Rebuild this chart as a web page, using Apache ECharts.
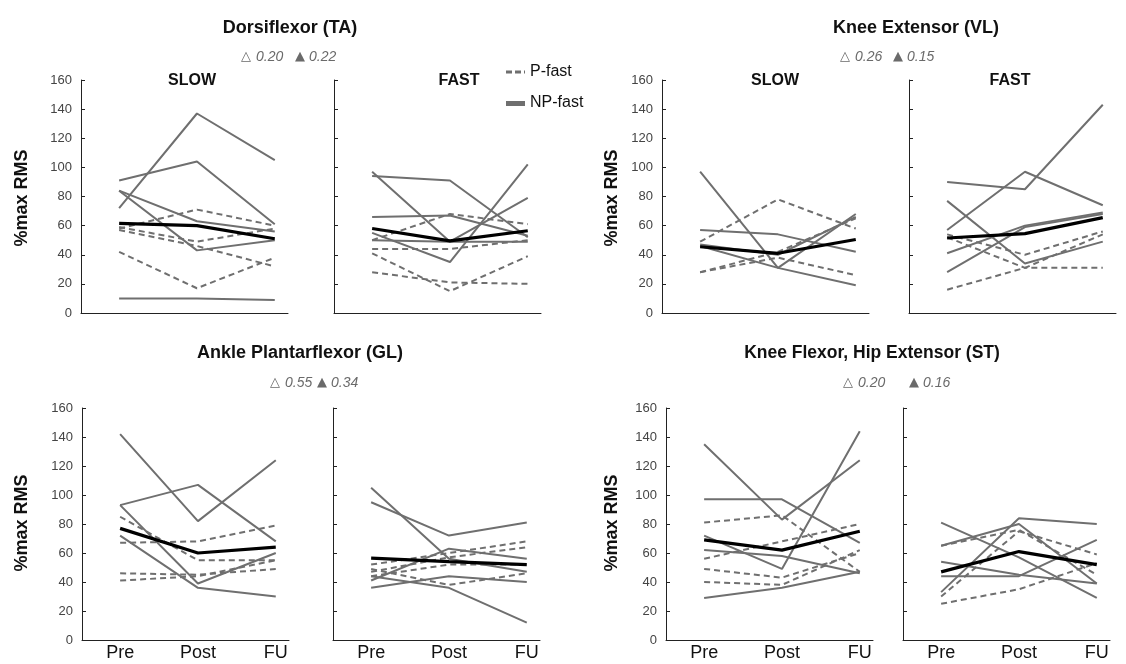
<!DOCTYPE html>
<html>
<head>
<meta charset="utf-8">
<script src="https://cdn.jsdelivr.net/npm/echarts@6/dist/echarts.min.js"></script>
<style>
  html, body { margin: 0; padding: 0; background: #fff; }
  #chart { width: 1126px; height: 664px; }
</style>
</head>
<body>
<div id="chart"></div>
<script>
// Time points
const timePoints = ['Pre', 'Post', 'FU'];
const yTicks = [0, 20, 40, 60, 80, 100, 120, 140, 160];

// Dorsiflexor (TA) — slow walking
const taSlowNP = [[72, 137, 105], [91, 104, 61], [84, 43, 50], [84, 63, 56], [10, 10, 9]];
const taSlowP = [[58, 71, 60], [59, 49, 58], [57, 46, 32], [42, 17, 38]];
const taSlowMean = [61.5, 60, 51];

// Dorsiflexor (TA) — fast walking
const taFastNP = [[94, 91, 52], [97, 49, 79], [66, 67, 53], [55, 35, 102], [50, 49, 49]];
const taFastP = [[44, 44, 50], [50, 68, 61], [41, 15, 39], [28, 21, 20]];
const taFastMean = [58, 49.5, 56.5];

// Knee extensor (VL) — slow walking
const vlSlowNP = [[97, 31, 68], [57, 54, 42], [46, 31, 19], [47, 40, 66]];
const vlSlowP = [[49, 78, 58], [28, 42, 65], [28, 38, 26]];
const vlSlowMean = [45.5, 41, 50.5];

// Knee extensor (VL) — fast walking
const vlFastNP = [[90, 85, 143], [57, 97, 74], [77, 34, 49], [41, 60, 69], [28, 59, 68]];
const vlFastP = [[54, 40, 56], [52, 31, 31], [16, 31, 54]];
const vlFastMean = [51.5, 54.5, 65.5];

// Ankle plantarflexor (GL) — slow walking
const glSlowNP = [[142, 82, 124], [93, 107, 68], [93, 39, 60], [72, 36, 30]];
const glSlowP = [[85, 55, 55], [67, 68, 79], [46, 45, 49], [41, 44, 55]];
const glSlowMean = [77, 60, 64];

// Ankle plantarflexor (GL) — fast walking
const glFastNP = [[105, 56, 47], [95, 72, 81], [41, 63, 56], [36, 44, 40], [44, 36, 12]];
const glFastP = [[52, 60, 68], [47, 57, 64], [49, 38, 46], [44, 52, 52]];
const glFastMean = [56.5, 54, 52];

// Knee flexor / hip extensor (ST) — slow walking
const stSlowNP = [[135, 83, 124], [97, 97, 67], [72, 49, 144], [62, 58, 46], [29, 36, 47]];
const stSlowP = [[81, 86, 47], [56, 68, 80], [49, 43, 60], [40, 38, 62]];
const stSlowMean = [69, 62, 75];

// Knee flexor / hip extensor (ST) — fast walking
const stFastNP = [[81, 57, 29], [65, 80, 39], [54, 45, 39], [44, 44, 69], [33, 84, 80]];
const stFastP = [[65, 76, 45], [30, 75, 59], [25, 35, 53]];
const stFastMean = [47, 61, 52];

// Change scores shown under each muscle heading: [open-triangle value, filled-triangle value]
const taNotes = ['0.20', '0.22'];
const vlNotes = ['0.26', '0.15'];
const glNotes = ['0.55', '0.34'];
const stNotes = ['0.20', '0.16'];

const FONT = '"Liberation Sans", Arial, sans-serif';
const SYMBOL_FONT = '"DejaVu Sans", sans-serif';
const LINE_GRAY = '#6f6f6f';

// Panel placement on the page
const panels = [
  { left: 81,  top: 80,  height: 233, np: taSlowNP, p: taSlowP, mean: taSlowMean, yLabels: true,  xLabels: false },
  { left: 334, top: 80,  height: 233, np: taFastNP, p: taFastP, mean: taFastMean, yLabels: false, xLabels: false },
  { left: 662, top: 80,  height: 233, np: vlSlowNP, p: vlSlowP, mean: vlSlowMean, yLabels: true,  xLabels: false },
  { left: 909, top: 80,  height: 233, np: vlFastNP, p: vlFastP, mean: vlFastMean, yLabels: false, xLabels: false },
  { left: 82,  top: 408, height: 232, np: glSlowNP, p: glSlowP, mean: glSlowMean, yLabels: true,  xLabels: true },
  { left: 333, top: 408, height: 232, np: glFastNP, p: glFastP, mean: glFastMean, yLabels: false, xLabels: true },
  { left: 666, top: 408, height: 232, np: stSlowNP, p: stSlowP, mean: stSlowMean, yLabels: true,  xLabels: true },
  { left: 903, top: 408, height: 232, np: stFastNP, p: stFastP, mean: stFastMean, yLabels: false, xLabels: true }
];
const PANEL_W = 207;
const X_MIN = -0.49, X_MAX = 2.17;

const toPoints = vals => vals.map((v, i) => [i, v]);

const grid = [], xAxis = [], yAxis = [], series = [];
panels.forEach((pn, k) => {
  grid.push({ left: pn.left, top: pn.top, width: PANEL_W, height: pn.height });
  xAxis.push({
    type: 'value', gridIndex: k, min: X_MIN, max: X_MAX,
    axisLine: { show: true, onZero: false, lineStyle: { color: '#222', width: 1 } },
    axisTick: { show: false },
    splitLine: { show: false },
    axisLabel: {
      show: pn.xLabels, customValues: [0, 1, 2], margin: 4,
      formatter: v => timePoints[Math.round(v)] || '',
      fontFamily: FONT, fontSize: 18, color: '#111'
    }
  });
  yAxis.push({
    type: 'value', gridIndex: k, min: yTicks[0], max: yTicks[yTicks.length - 1], interval: 20,
    axisLine: { show: true, onZero: false, lineStyle: { color: '#222', width: 1 } },
    axisTick: { show: true, inside: true, length: 4, lineStyle: { color: '#222' } },
    splitLine: { show: false },
    axisLabel: { show: pn.yLabels, margin: 9, fontFamily: FONT, fontSize: 13, color: '#444' }
  });
  pn.p.forEach(row => series.push({
    type: 'line', xAxisIndex: k, yAxisIndex: k, data: toPoints(row), symbol: 'none',
    lineStyle: { color: LINE_GRAY, width: 2, type: [6, 4] }, silent: true, z: 2
  }));
  pn.np.forEach(row => series.push({
    type: 'line', xAxisIndex: k, yAxisIndex: k, data: toPoints(row), symbol: 'none',
    lineStyle: { color: LINE_GRAY, width: 2 }, silent: true, z: 3
  }));
  series.push({
    type: 'line', xAxisIndex: k, yAxisIndex: k, data: toPoints(pn.mean), symbol: 'none',
    lineStyle: { color: '#000', width: 3.2 }, silent: true, z: 4
  });
});

// Headings, change-score notes, condition labels, axis names and legend
const txt = (x, y, text, size, opts = {}) => ({
  type: 'text', x, y,
  style: Object.assign({
    text, fontFamily: FONT, fontSize: size, fontWeight: 'bold', fill: '#111',
    align: 'center', verticalAlign: 'middle'
  }, opts)
});
const NOTE_STYLE = { fontWeight: 'normal', fontStyle: 'italic', fill: '#6a6a6a', align: 'left' };
const TRI_STYLE = { fontWeight: 'normal', fontFamily: SYMBOL_FONT, fill: '#6a6a6a', align: 'left' };
// x positions: open triangle, its value, filled triangle, its value
const noteRow = (xs, y, vals) => [
  txt(xs[0], y, '\u25B3', 13, TRI_STYLE),
  txt(xs[1], y, vals[0], 14, NOTE_STYLE),
  txt(xs[2], y, '\u25B2', 13, TRI_STYLE),
  txt(xs[3], y, vals[1], 14, NOTE_STYLE)
];

const graphic = [
  txt(290, 28, 'Dorsiflexor (TA)', 18),
  txt(916, 28, 'Knee Extensor (VL)', 18),
  txt(300, 353, 'Ankle Plantarflexor (GL)', 18),
  txt(872, 353, 'Knee Flexor, Hip Extensor (ST)', 17.5),

  ...noteRow([241, 256, 295, 309], 57, taNotes),
  ...noteRow([840, 855, 893, 907], 57, vlNotes),
  ...noteRow([270, 285, 317, 331], 383, glNotes),
  ...noteRow([843, 858, 909, 923], 383, stNotes),

  txt(192, 81, 'SLOW', 16),
  txt(459, 81, 'FAST', 16),
  txt(775, 81, 'SLOW', 16),
  txt(1010, 81, 'FAST', 16),

  Object.assign(txt(22, 198, '%max RMS', 18), { rotation: Math.PI / 2 }),
  Object.assign(txt(22, 523, '%max RMS', 18), { rotation: Math.PI / 2 }),
  Object.assign(txt(612, 198, '%max RMS', 18), { rotation: Math.PI / 2 }),
  Object.assign(txt(612, 523, '%max RMS', 18), { rotation: Math.PI / 2 }),

  { type: 'line', shape: { x1: 506, y1: 72, x2: 525, y2: 72 },
    style: { stroke: LINE_GRAY, lineWidth: 3, lineDash: [6, 3] } },
  txt(530, 72, 'P-fast', 16, { fontWeight: 'normal', align: 'left' }),
  { type: 'rect', shape: { x: 506, y: 101, width: 19, height: 5 }, style: { fill: LINE_GRAY } },
  txt(530, 103, 'NP-fast', 16, { fontWeight: 'normal', align: 'left' })
];

const chart = echarts.init(document.getElementById('chart'), null, { renderer: 'canvas' });
chart.setOption({
  animation: false,
  backgroundColor: '#fff',
  grid, xAxis, yAxis, series, graphic
});
</script>
</body>
</html>
